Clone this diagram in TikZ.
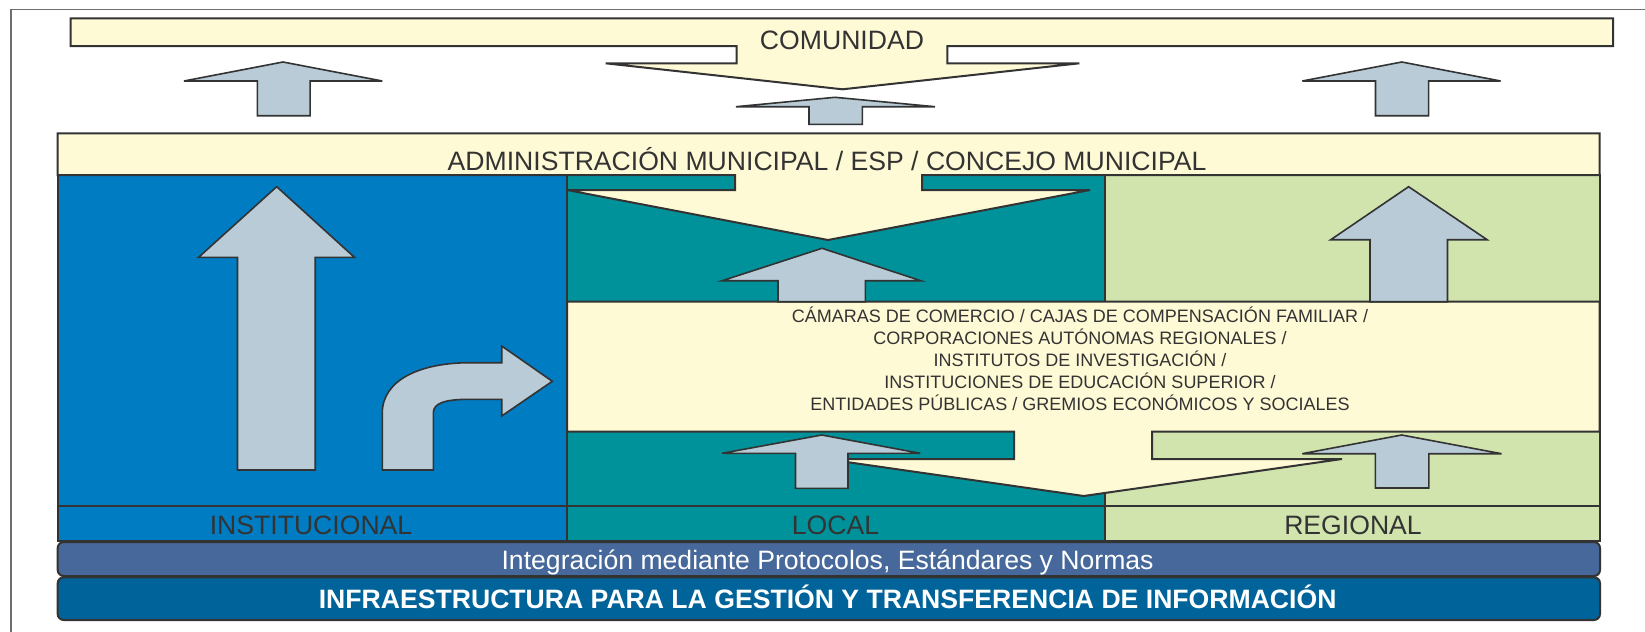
\documentclass[tikz,border=0pt]{standalone}
\usepackage{fontspec}
\setmainfont{Liberation Sans}

\definecolor{colblue}{RGB}{0,124,194}
\definecolor{colteal}{RGB}{0,146,155}
\definecolor{colgreen}{RGB}{209,228,174}
\definecolor{cream}{RGB}{255,250,214}
\definecolor{arrowfill}{RGB}{184,203,214}
\definecolor{linegray}{RGB}{51,51,51}
\definecolor{textgray}{RGB}{51,51,51}
\definecolor{framegray}{RGB}{110,110,110}
\definecolor{intbar}{RGB}{70,104,154}
\definecolor{infrabar}{RGB}{0,99,153}

\begin{document}
\begin{tikzpicture}[x=0.5pt, y=-0.5pt,
    box/.style={draw=linegray, line width=1pt},
    blockarrow/.style={draw=linegray, fill=arrowfill, line width=0.8pt},
    label/.style={anchor=base, inner sep=0pt, text=textgray, font=\fontsize{13.3}{15}\selectfont}]
    \useasboundingbox (0,0) rectangle (1645,632);

    % frame
    \draw[framegray, line width=0.6pt] (11,632) -- (11,9.3) -- (1645,9.3);

    % Comunidad
    \draw[box, fill=cream] (70.6,18.3) -- (1613,18.3) -- (1613,46) -- (947.3,46) -- (947.3,63.3)
        -- (1079.4,63.3) -- (842.5,89.3) -- (605.6,63.3) -- (736.7,63.3) -- (736.7,46) -- (70.6,46) -- cycle;
    \node[label] (comunidad) at (842,49) {COMUNIDAD};

    \draw[blockarrow] (257.3,115.7) -- (257.3,81) -- (184,81) -- (283,62) -- (382.3,81) -- (310.1,81) -- (310.1,115.7) -- cycle;
    \draw[blockarrow] (809,124.3) -- (809,106.7) -- (736,106.7) -- (835,97.3) -- (935,106.7) -- (862.3,106.7) -- (862.3,124.3) -- cycle;
    \draw[blockarrow] (1375.5,115.7) -- (1375.5,81) -- (1302.3,81) -- (1401.8,62) -- (1500.6,81) -- (1428.6,81) -- (1428.6,115.7) -- cycle;

    % columns
    \draw[box, fill=colblue] (57.5,175) rectangle (567,506);
    \draw[box, fill=colteal] (567,175) rectangle (1105,506);
    \draw[box, fill=colgreen] (1105,175) rectangle (1599.5,506);

    % Administracion municipal
    \draw[box, fill=cream] (57.5,133.3) -- (1599.5,133.3) -- (1599.5,175) -- (922,175) -- (922,190) -- (1090,190)
        -- (828,240) -- (567,190) -- (735,190) -- (735,175) -- (57.5,175) -- cycle;
    \node[label] (admin) at (827,170) {ADMINISTRACIÓN MUNICIPAL / ESP / CONCEJO MUNICIPAL};

    % actores
    \draw[box, fill=cream] (567,301.7) -- (1599.5,301.7) -- (1599.5,431.7) -- (1152,431.7) -- (1152,459) -- (1342,459)
        -- (1083.7,496) -- (825.7,459) -- (1014,459) -- (1014,431.7) -- (567,431.7) -- cycle;
    \node[label, align=center, font=\fontsize{9}{11.05}\selectfont] (actores) at (1080,410.7)
        {CÁMARAS DE COMERCIO / CAJAS DE COMPENSACIÓN FAMILIAR /\\
         CORPORACIONES AUTÓNOMAS REGIONALES /\\
         INSTITUTOS DE INVESTIGACIÓN /\\
         INSTITUCIONES DE EDUCACIÓN SUPERIOR /\\
         ENTIDADES PÚBLICAS / GREMIOS ECONÓMICOS Y SOCIALES};

    % arrows in the columns
    \draw[blockarrow] (237.5,470) -- (237.5,257.3) -- (198.6,257.3) -- (276.7,186.7) -- (354.4,257.3) -- (315.2,257.3) -- (315.2,470) -- cycle;
    \draw[blockarrow] (382.3,470) -- (382.3,413) .. controls (382.3,380) and (420,362.7) .. (470,362.7) -- (501.7,362.7)
        -- (501.7,346) -- (552.3,381.3) -- (501.7,416) -- (501.7,399.3) -- (470,399.3)
        .. controls (445,399.3) and (433.3,403) .. (433.3,413) -- (433.3,470) -- cycle;
    \draw[blockarrow] (778,301.7) -- (778,280.7) -- (722.2,280.7) -- (822,248.3) -- (920.8,280.7) -- (865.3,280.7) -- (865.3,301.7) -- cycle;
    \draw[blockarrow] (1370,301.7) -- (1370,239.7) -- (1330.8,239.7) -- (1408.6,186.7) -- (1487.1,239.7) -- (1447.5,239.7) -- (1447.5,301.7) -- cycle;
    \draw[blockarrow] (795.5,488.3) -- (795.5,453.3) -- (722,453.3) -- (821.8,435) -- (920.3,453.3) -- (848,453.3) -- (848,488.3) -- cycle;
    \draw[blockarrow] (1375.4,488) -- (1375.4,453.7) -- (1302.3,453.7) -- (1401.7,435) -- (1501.5,453.7) -- (1428.8,453.7) -- (1428.8,488) -- cycle;

    % levels
    \draw[box, fill=colblue] (57.5,506) rectangle (567,540.7);
    \draw[box, fill=colteal] (567,506) rectangle (1105,540.7);
    \draw[box, fill=colgreen] (1105,506) rectangle (1599.5,540.7);
    \node[label] (institucional) at (311,534) {INSTITUCIONAL};
    \node[label] (local) at (835.5,534) {LOCAL};
    \node[label] (regional) at (1353,534) {REGIONAL};

    % integracion / infraestructura
    \draw[box, fill=intbar, rounded corners=3pt] (57.7,542) rectangle (1600,576);
    \node[label, text=white] (integracion) at (827.6,569) {Integración mediante Protocolos, Estándares y Normas};
    \draw[box, fill=infrabar, rounded corners=3pt] (57.7,577.3) rectangle (1600,620);
    \node[label, text=white, font=\fontsize{13.3}{15}\selectfont\bfseries] (infra) at (827.7,608)
        {INFRAESTRUCTURA PARA LA GESTIÓN Y TRANSFERENCIA DE INFORMACIÓN};
\end{tikzpicture}
\end{document}
